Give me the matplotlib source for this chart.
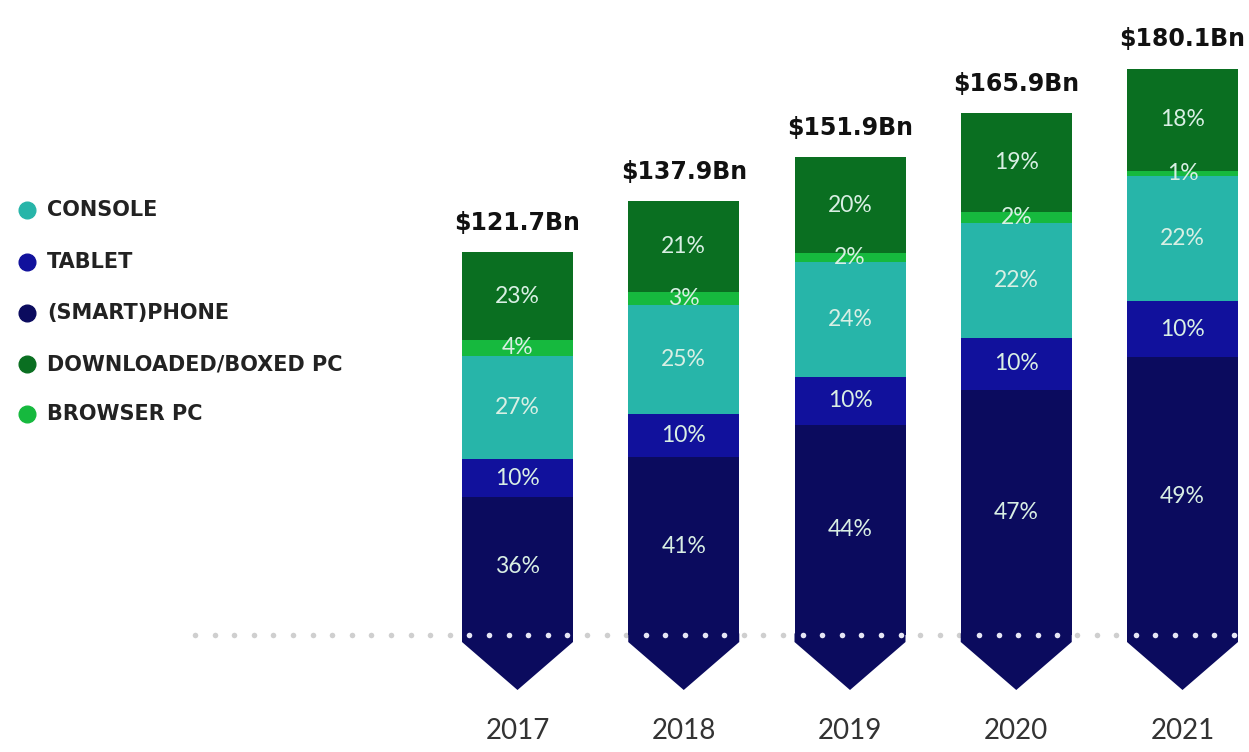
import numpy as np
import matplotlib
matplotlib.use("Agg")
import matplotlib.pyplot as plt
from matplotlib.patches import Polygon
from matplotlib.lines import Line2D

# ---- data ----
years = ["2017", "2018", "2019", "2020", "2021"]
totals = [121.7, 137.9, 151.9, 165.9, 180.1]
total_labels = ["$121.7Bn", "$137.9Bn", "$151.9Bn", "$165.9Bn", "$180.1Bn"]
# shares (%) stacked from bottom to top
phone_pct = [36, 41, 44, 47, 49]
tablet_pct = [10, 10, 10, 10, 10]
console_pct = [27, 25, 24, 22, 22]
browser_pct = [4, 3, 2, 2, 1]
boxed_pct = [23, 21, 20, 19, 18]

legend_labels = ["CONSOLE", "TABLET", "(SMART)PHONE", "DOWNLOADED/BOXED PC", "BROWSER PC"]

# ---- style ----
C_PHONE = "#0b0b5e"
C_TABLET = "#11119c"
C_CONSOLE = "#27b5a9"
C_BROWSER = "#16b93e"
C_BOXED = "#0a6f21"
legend_colors = [C_CONSOLE, C_TABLET, C_PHONE, C_BOXED, C_BROWSER]

W, H = 1249, 752
fig = plt.figure(figsize=(W / 100, H / 100), dpi=100)
ax = fig.add_axes([0, 0, 1, 1])
ax.axis("off")

spacing_px = 166.25
x0_px = 517.5
base_px_from_bottom = 117
px_per_bn = 3.145
ax.set_xlim(-x0_px / spacing_px, (W - x0_px) / spacing_px)
ax.set_ylim(-base_px_from_bottom / px_per_bn, (H - base_px_from_bottom) / px_per_bn)

x = np.arange(len(years))
bw = 111 / spacing_px
totals_a = np.array(totals)

series = [
    (phone_pct, C_PHONE),
    (tablet_pct, C_TABLET),
    (console_pct, C_CONSOLE),
    (browser_pct, C_BROWSER),
    (boxed_pct, C_BOXED),
]

bottom = np.zeros(len(years))
for pct, col in series:
    vals = totals_a * np.array(pct) / 100.0
    ax.bar(x, vals, bw, bottom=bottom, color=col, zorder=3, linewidth=0)
    for i in range(len(years)):
        ax.text(x[i], bottom[i] + vals[i] / 2, f"{pct[i]}%", ha="center", va="center",
                fontsize=16.5, color="#d9efe4", family=["Lato", "DejaVu Sans"], zorder=5)
    bottom = bottom + vals

# total labels
for i in range(len(years)):
    ax.text(x[i], totals_a[i] + 5.5, total_labels[i], ha="center", va="bottom",
            fontsize=17, fontweight="bold", color="#111111", family="DejaVu Sans")

# arrow bottoms below baseline
side = 7 / px_per_bn
tip = 55 / px_per_bn
for i in range(len(years)):
    poly = Polygon([(x[i] - bw / 2, 0.5), (x[i] + bw / 2, 0.5), (x[i] + bw / 2, -side),
                    (x[i], -tip), (x[i] - bw / 2, -side)],
                   closed=True, facecolor=C_PHONE, linewidth=0, zorder=3)
    ax.add_patch(poly)

# dotted baseline
step = 19.6 / spacing_px
dots = np.arange((195 - x0_px) / spacing_px, (1242 - x0_px) / spacing_px, step)
inside = np.zeros_like(dots, dtype=bool)
for i in range(len(years)):
    inside |= (dots > x[i] - bw / 2 + 0.01) & (dots < x[i] + bw / 2 - 0.01)
ax.scatter(dots[~inside], np.zeros((~inside).sum()), s=16, color="#cfcfcf", zorder=2, linewidths=0)
ax.scatter(dots[inside], np.zeros(inside.sum()), s=16, color="#e6e6f5", zorder=4, linewidths=0)

# year labels
for i in range(len(years)):
    ax.text(x[i], -30.5, years[i], ha="center", va="center", fontsize=20,
            color="#333333", family=["Lato", "DejaVu Sans"])

# legend
leg_y = [210, 262, 313, 364, 414]
for lab, col, yy in zip(legend_labels, legend_colors, leg_y):
    fy = 1 - yy / H
    fig.add_artist(Line2D([27 / W], [fy], marker="o", markersize=12,
                          color=col, linestyle="none", transform=fig.transFigure))
    fig.text(47 / W, fy, lab, ha="left", va="center", fontsize=15, fontweight="bold",
             color="#222222", family="DejaVu Sans")

fig.savefig("out.png", dpi=100, facecolor="white")
